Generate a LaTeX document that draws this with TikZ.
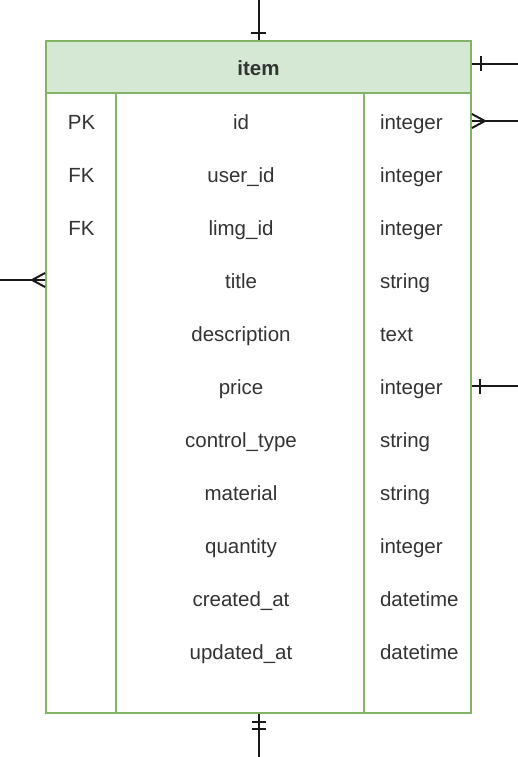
\documentclass[tikz,border=0pt]{standalone}
\usepackage{fontspec}
\setmainfont{Liberation Sans}
\usepackage{xcolor}
\usetikzlibrary{arrows.meta, positioning, decorations.markings}

\definecolor{erfill}{HTML}{D5E8D4}
\definecolor{erline}{HTML}{82B366}
\definecolor{ertext}{HTML}{333333}

\begin{document}
\begin{tikzpicture}[x=1pt, y=-1pt, node distance=53pt, on grid,
    cell/.style={font=\fontsize{20.5}{24}\selectfont, text=ertext, inner sep=0pt, text height=15pt, text depth=0pt},
    keycell/.style={cell},
    namecell/.style={cell},
    typecell/.style={cell, text width=86pt, align=left},
    head/.style={rectangle, draw=erline, fill=erfill, line width=1.8pt, minimum width=425pt, minimum height=52pt, inner sep=0pt, text height=18pt, text depth=0pt, font=\bfseries\fontsize{20.5}{24}\selectfont, text=ertext},
    body/.style={rectangle, draw=erline, line width=1.8pt, minimum width=425pt, minimum height=620pt},
    colline/.style={draw=erline, line width=1.8pt},
    link/.style={draw=black!90, line width=2pt},
    one/.style={postaction={decorate}, decoration={markings, mark=at position -#1 with {\draw[link] (0,-7.5pt) -- (0,7.5pt);}}},
    two/.style={postaction={decorate}, decoration={markings,
        mark=at position -15pt with {\draw[link] (0,-7pt) -- (0,7pt);},
        mark=at position -8pt with {\draw[link] (0,-7pt) -- (0,7pt);}}},
    many/.style={postaction={decorate}, decoration={markings, mark=at position -13pt with {\draw[link] (13pt,7pt) -- (0,0) -- (13pt,-7pt);}}}]

    \useasboundingbox (0,0) rectangle (518,757);

    % table
    \node[head] (hd) at (258.5,67) {item};
    \node[body, below=336pt of hd] (bd) {};
    \draw[colline] ([xshift=71pt]bd.north west) -- ([xshift=71pt]bd.south west);
    \draw[colline] ([xshift=319pt]bd.north west) -- ([xshift=319pt]bd.south west);

    % keys
    \node[keycell] (pk) at (81.5,121.5) {PK};
    \node[keycell, below=of pk] (fk1) {FK};
    \node[keycell, below=of fk1] (fk2) {FK};

    % names
    \node[namecell] (id) at (241,121.5) {id};
    \node[namecell, below=of id] (userid) {user\_id};
    \node[namecell, below=of userid] (limgid) {limg\_id};
    \node[namecell, below=of limgid] (title) {title};
    \node[namecell, below=of title] (desc) {description};
    \node[namecell, below=of desc] (price) {price};
    \node[namecell, below=of price] (ctype) {control\_type};
    \node[namecell, below=of ctype] (material) {material};
    \node[namecell, below=of material] (qty) {quantity};
    \node[namecell, below=of qty] (created) {created\_at};
    \node[namecell, below=of created] (updated) {updated\_at};

    % types
    \node[typecell] (tid) at (423,121.5) {integer};
    \node[typecell, below=of tid] (tuserid) {integer};
    \node[typecell, below=of tuserid] (tlimgid) {integer};
    \node[typecell, below=of tlimgid] (ttitle) {string};
    \node[typecell, below=of ttitle] (tdesc) {text};
    \node[typecell, below=of tdesc] (tprice) {integer};
    \node[typecell, below=of tprice] (tctype) {string};
    \node[typecell, below=of tctype] (tmaterial) {string};
    \node[typecell, below=of tmaterial] (tqty) {integer};
    \node[typecell, below=of tqty] (tcreated) {datetime};
    \node[typecell, below=of tcreated] (tupdated) {datetime};

    % relations
    \coordinate (topend) at (258.5,0);
    \coordinate (headend) at (518,64);
    \coordinate (idend) at (518,121);
    \coordinate (titleend) at (0,280);
    \coordinate (priceend) at (518,386);
    \coordinate (botend) at (258.5,757);

    \draw[link, one=7pt] (topend) -- (hd.north);
    \draw[link, one=9pt] (headend) -- (headend -| hd.east);
    \draw[link, many] (idend) -- (idend -| bd.east);
    \draw[link, many] (titleend) -- (titleend -| bd.west);
    \draw[link, one=8pt] (priceend) -- (priceend -| bd.east);
    \draw[link, two] (botend) -- (bd.south);

\end{tikzpicture}
\end{document}
